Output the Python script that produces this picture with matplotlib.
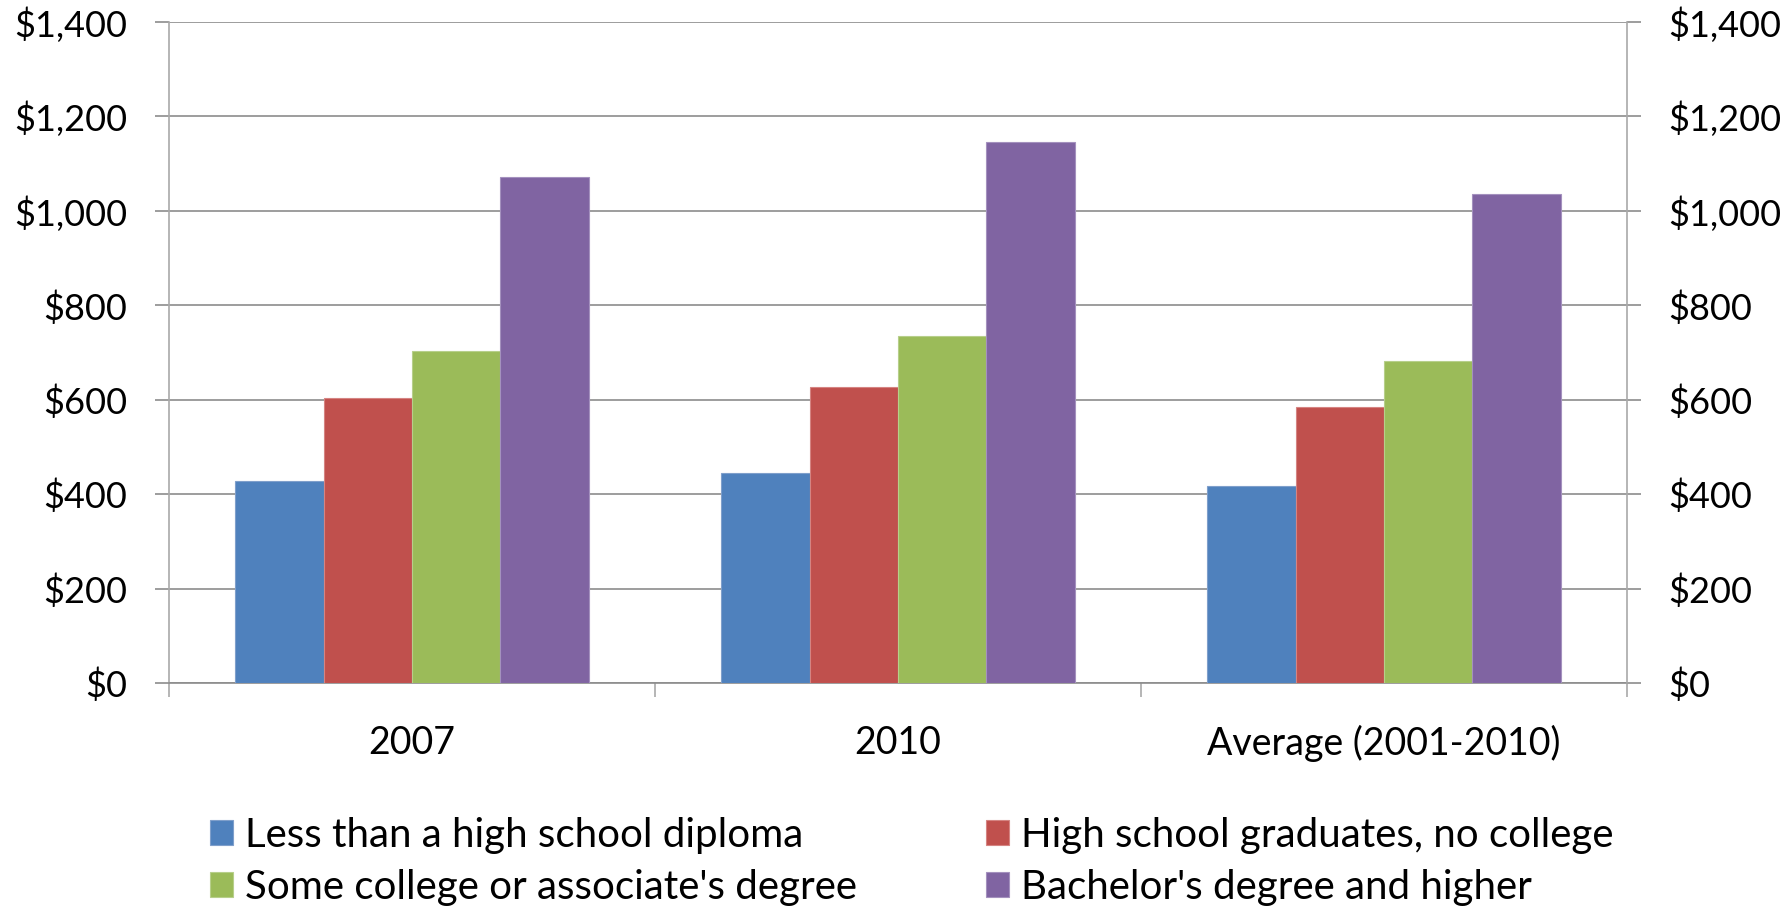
import matplotlib.pyplot as plt
import numpy as np
from matplotlib.ticker import FuncFormatter

categorias = ["2007", "2010", "Average (2001-2010)"]
series = [
    "Less than a high school diploma",
    "High school graduates, no college",
    "Some college or associate's degree",
    "Bachelor's degree and higher",
]
menos_secundaria = [428, 444, 417]
secundaria = [604, 626, 584]
algo_universidad = [704, 734, 681]
licenciatura = [1072, 1145, 1035]
valores_y = [0, 200, 400, 600, 800, 1000, 1200, 1400]

colores = ["#4F81BD", "#C0504D", "#9BBB59", "#8064A2"]
bordes = ["#7F9FCB", "#D58482", "#B7CF8B", "#A491BE"]
gris_rejilla = "#8C8C8C"
gris_eje = "#A9A9A9"

plt.rcParams["font.family"] = ["Lato", "DejaVu Sans"]

W, H = 1787, 907
fig = plt.figure(figsize=(W / 100, H / 100), dpi=100)
ax = fig.add_axes([169 / W, 1 - 683 / H, (1627 - 169) / W, (683 - 22) / H])

x = np.arange(len(categorias))
ancho = 1 / 5.5
datos = [menos_secundaria, secundaria, algo_universidad, licenciatura]
barras = []
for i, valores in enumerate(datos):
    b = ax.bar(x + (i - 1.5) * ancho, valores, ancho, color=colores[i],
               edgecolor=bordes[i], linewidth=0.8, zorder=3, label=series[i])
    barras.append(b)

ax.set_xlim(-0.5, 2.5)
ax.set_ylim(0, 1400)

formato = FuncFormatter(lambda v, p: "${:,.0f}".format(v))

# eje izquierdo con rejilla horizontal
ax.set_yticks(valores_y)
ax.yaxis.set_major_formatter(formato)
ax.yaxis.grid(True, color=gris_rejilla, linewidth=1.2, zorder=0)
ax.tick_params(axis="y", length=10, width=1.2, color=gris_rejilla, pad=20,
               labelsize=26)

# eje derecho con las mismas marcas
ax2 = ax.twinx()
ax2.set_ylim(0, 1400)
ax2.set_yticks(valores_y)
ax2.yaxis.set_major_formatter(formato)
ax2.tick_params(axis="y", length=10, width=1.2, color=gris_rejilla, pad=20,
                labelsize=26)

ax.set_xticks(x)
ax.set_xticklabels(categorias)
ax.set_xticks([-0.5, 0.5, 1.5, 2.5], minor=True)
ax.tick_params(axis="x", which="major", length=0, pad=30, labelsize=27)
ax.tick_params(axis="x", which="minor", length=10, width=1.2, color=gris_eje)

for s in ["top", "right"]:
    ax.spines[s].set_visible(False)
for s in ["top", "left", "bottom"]:
    ax2.spines[s].set_visible(False)
ax.spines["left"].set_color(gris_eje)
ax.spines["left"].set_linewidth(1.2)
ax2.spines["right"].set_color(gris_eje)
ax2.spines["right"].set_linewidth(1.2)
ax.spines["bottom"].set_color(gris_rejilla)
ax.spines["bottom"].set_linewidth(1.2)

# leyenda en dos columnas (orden por filas)
orden = [0, 2, 1, 3]
fig.legend([barras[i] for i in orden], [series[i] for i in orden],
           loc="upper left", bbox_to_anchor=(210 / W, 1 - 817 / H), ncol=2,
           frameon=False, fontsize=29, handlelength=0.57, handleheight=0.57,
           handletextpad=0.3, columnspacing=3.2, labelspacing=0.36,
           borderpad=0, borderaxespad=0)

fig.savefig("out.png", dpi=100)
